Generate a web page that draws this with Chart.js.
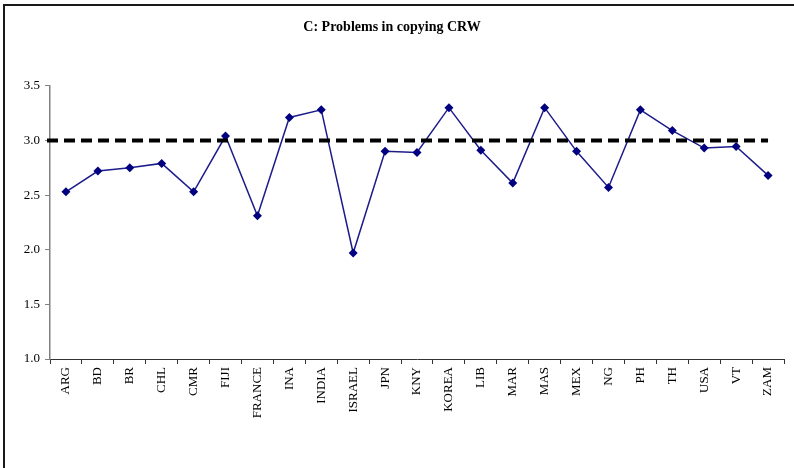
<!DOCTYPE html>
<html>
<head>
<meta charset="utf-8">
<script src="https://cdn.jsdelivr.net/npm/chart.js@4/dist/chart.umd.min.js"></script>
<style>
  html, body { margin: 0; padding: 0; background: #fff; }
  #wrap { position: relative; width: 794px; height: 468px; overflow: hidden; }
  #frame {
    position: absolute; left: 3px; top: 4px; width: 820px; height: 480px;
    border-left: 2px solid #1a1a1a; border-top: 2px solid #1a1a1a;
    pointer-events: none;
  }
  canvas { position: absolute; left: 0; top: 0; }
</style>
</head>
<body>
<div id="wrap">
  <canvas id="crwChart" width="794" height="468"></canvas>
  <div id="frame"></div>
</div>
<script>
const countries = ['ARG', 'BD', 'BR', 'CHL', 'CMR', 'FIJI', 'FRANCE', 'INA', 'INDIA', 'ISRAEL', 'JPN', 'KNY',
  'KOREA', 'LIB', 'MAR', 'MAS', 'MEX', 'NG', 'PH', 'TH', 'USA', 'VT', 'ZAM'];
const scores = [2.53, 2.72, 2.75, 2.79, 2.53, 3.04, 2.31, 3.21, 3.28, 1.97, 2.90, 2.89,
  3.30, 2.91, 2.61, 3.30, 2.90, 2.57, 3.28, 3.09, 2.93, 2.945, 2.68];
const referenceLevel = 3.0;
const yTicks = [1.0, 1.5, 2.0, 2.5, 3.0, 3.5];

const serif = "'Liberation Serif', 'DejaVu Serif', serif";

// dashed reference line, from the y axis to the last category
const refLinePlugin = {
  id: 'refLine',
  afterDatasetsDraw(chart) {
    const { ctx, chartArea, scales } = chart;
    const y = scales.y.getPixelForValue(referenceLevel);
    const xEnd = scales.x.getPixelForValue(countries.length - 1);
    ctx.save();
    ctx.beginPath();
    ctx.setLineDash([11, 6]);
    ctx.lineWidth = 4;
    ctx.strokeStyle = '#000';
    ctx.moveTo(chartArea.left - 3, y);
    ctx.lineTo(xEnd, y);
    ctx.stroke();
    ctx.restore();
  },
};

new Chart(document.getElementById('crwChart'), {
  type: 'line',
  data: {
    labels: countries,
    datasets: [
      {
        label: 'CRW',
        data: scores,
        borderColor: '#1c1c8a',
        borderWidth: 1.5,
        backgroundColor: '#000080',
        pointStyle: 'rectRot',
        pointRadius: 4.5,
        pointBorderWidth: 0,
        pointBackgroundColor: '#000080',
        tension: 0,
        fill: false,
      },
    ],
  },
  options: {
    responsive: false,
    animation: false,
    layout: { padding: { left: 0, right: 10, top: 0, bottom: 0 } },
    plugins: {
      legend: { display: false },
      tooltip: { enabled: false },
      title: {
        display: true,
        text: 'C: Problems in copying CRW',
        color: '#000',
        font: { family: serif, size: 14, weight: 'bold' },
        padding: { top: 19, bottom: 50 },
      },
    },
    scales: {
      x: {
        offset: true,
        grid: { display: true, offset: true, drawOnChartArea: false, drawTicks: true, tickLength: 5, color: '#333' },
        border: { display: true, color: '#333', width: 1 },
        ticks: {
          minRotation: 90, maxRotation: 90, autoSkip: false, padding: 3,
          color: '#000', font: { family: serif, size: 13 },
        },
        afterFit(scale) { scale.height = 109; },
      },
      y: {
        min: 1, max: 3.5,
        afterBuildTicks(scale) { scale.ticks = yTicks.map((v) => ({ value: v })); },
        grid: { display: true, drawOnChartArea: false, drawTicks: true, tickLength: 5, color: '#808080' },
        border: { display: true, color: '#808080', width: 1.5 },
        ticks: {
          padding: 5, color: '#000', font: { family: serif, size: 13 },
          callback: (v) => Number(v).toFixed(1),
        },
        afterFit(scale) { scale.width = 50; },
      },
    },
  },
  plugins: [refLinePlugin],
});
</script>
</body>
</html>
